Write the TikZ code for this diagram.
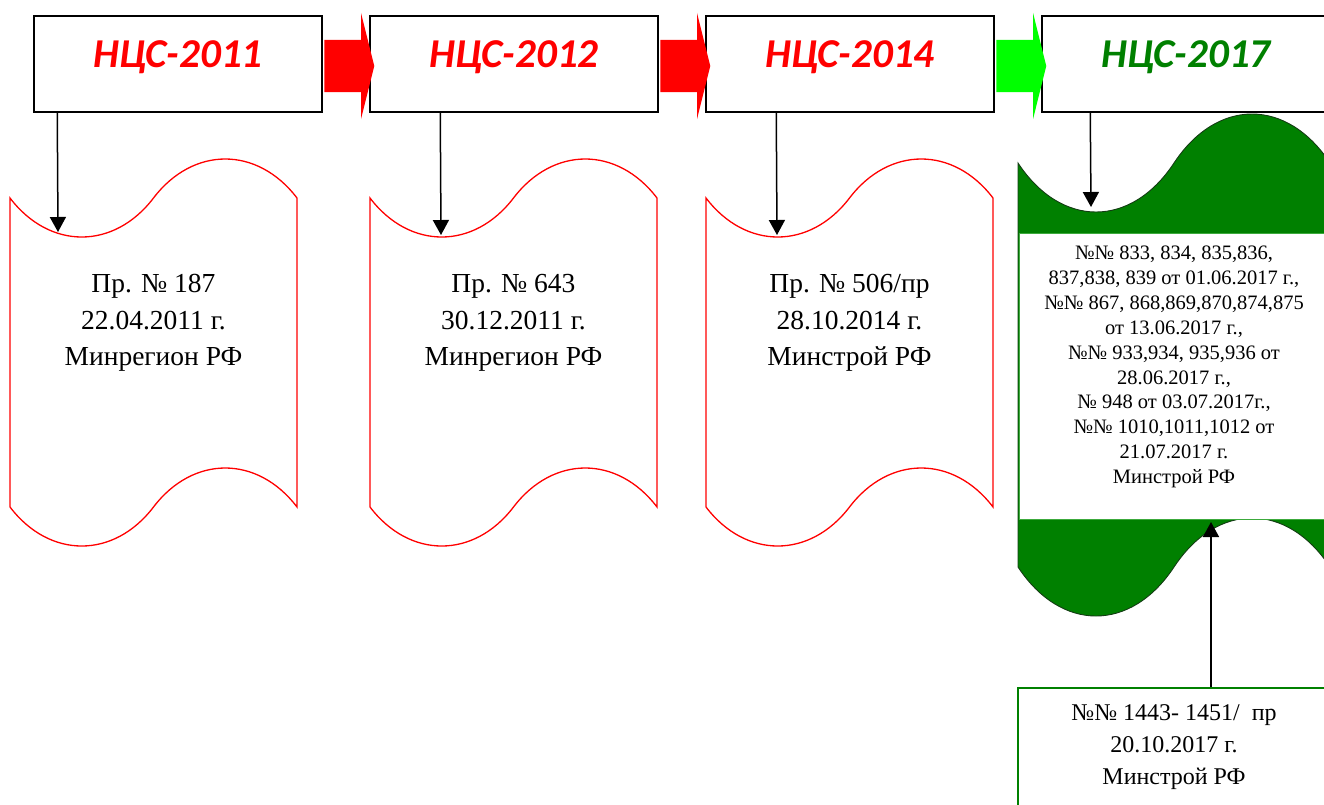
\documentclass[tikz,border=0pt]{standalone}
\usepackage{fontspec}
\setmainfont{Liberation Serif}
\newfontfamily\headfont{Carlito}
\usetikzlibrary{arrows.meta,positioning,shapes.symbols,shapes.arrows,calc}
\definecolor{ncsred}{RGB}{255,0,0}
\definecolor{ncsgreen}{RGB}{0,128,0}
\definecolor{flowgreen}{RGB}{0,255,0}
\definecolor{tapeedge}{RGB}{20,60,20}
\definecolor{listedge}{RGB}{60,170,60}

\begin{document}
\begin{tikzpicture}[
  x=1pt, y=-1pt,
  titlebox/.style={draw, line width=1.5pt, minimum width=288pt, minimum height=96pt, inner sep=0pt},
  yeartext/.style={font=\headfont\bfseries\itshape\fontsize{41}{48}\selectfont, inner sep=0pt},
  doctape/.style={tape, draw=ncsred, line width=1.3pt, minimum width=287pt,
                  minimum height=387pt, tape bend height=78pt, inner sep=0pt},
  doctext/.style={align=center, font=\fontsize{27.5}{36.5}\selectfont, inner sep=0pt},
  listtext/.style={align=center, font=\fontsize{20.5}{24.9}\selectfont, inner sep=0pt},
  flow/.style={single arrow, minimum height=50pt, inner sep=0pt, inner ysep=26pt,
               single arrow head extend=27pt, single arrow tip angle=152},
  link/.style={-{Triangle[length=15pt,width=16pt]}, line width=1.5pt}
]
\useasboundingbox (0,0) rectangle (1324,804);
\clip (0,0) rectangle (1324,804);

\node[titlebox] (box1) at (178,64) {};
\node[titlebox] (box2) at (514,64) {};
\node[titlebox] (box3) at (850,64) {};
\node[titlebox] (box4) at (1186,64) {};

\node[yeartext, text=ncsred] (year1) at (178,57) {НЦС-2011};
\node[yeartext, text=ncsred] (year2) at (514,57) {НЦС-2012};
\node[yeartext, text=ncsred] (year3) at (850,57) {НЦС-2014};
\node[yeartext, text=ncsgreen] (year4) at (1186,57) {НЦС-2017};

\node[flow, fill=ncsred] (flow12) at ($(box1.east)!.5!(box2.west)+(0,2)$) {};
\node[flow, fill=ncsred] (flow23) at ($(box2.east)!.5!(box3.west)+(0,2)$) {};
\node[flow, fill=flowgreen] (flow34) at ($(box3.east)!.5!(box4.west)+(0,2)$) {};

\node[doctape] (tape1) at (153.5,352.5) {};
\node[doctape] (tape2) at (513.5,352.5) {};
\node[doctape] (tape3) at (849.5,352.5) {};
\node[doctape, draw=tapeedge, fill=ncsgreen, line width=0.9pt, minimum width=312pt,
      minimum height=502pt, tape bend height=98pt] (tape4) at (1174,365) {};
\node[draw=listedge, fill=white, line width=0.8pt, minimum width=311pt,
      minimum height=286pt, inner sep=0pt] (list4) at (1174.5,376) {};

\node[doctext] (doc1) at (153.5,323) {Пр. № 187\\22.04.2011 г.\\Минрегион РФ};
\node[doctext] (doc2) at (513.5,323) {Пр. № 643\\30.12.2011 г.\\Минрегион РФ};
\node[doctext] (doc3) at (849.5,323) {Пр. № 506/пр\\28.10.2014 г.\\Минстрой РФ};
\node[listtext] (doc4) at (1174,367) {№№ 833, 834, 835,836,\\837,838, 839 от 01.06.2017 г.,\\
  №№ 867, 868,869,870,874,875\\от 13.06.2017 г.,\\ №№ 933,934, 935,936 от\\28.06.2017 г.,\\
  № 948 от 03.07.2017г.,\\№№ 1010,1011,1012 от\\21.07.2017 г.\\Минстрой РФ};

\node[draw=ncsgreen, line width=1.2pt, minimum width=312pt, minimum height=142pt,
      inner sep=0pt] (order5) at (1174,759) {};
\node[doctext, font=\fontsize{24}{32}\selectfont] (doc5) at (1174,747)
  {№№ 1443- 1451/\ \ пр\\20.10.2017 г.\\Минстрой РФ};

\coordinate (hit1) at (58,232);
\coordinate (hit2) at (441,235);
\coordinate (hit3) at (777,235);
\coordinate (hit4) at (1091,207);
\coordinate (hit5) at (1211,522);

\draw[link] ([xshift=24pt]box1.south west) -- (hit1);
\draw[link] ([xshift=71pt]box2.south west) -- (hit2);
\draw[link] ([xshift=71pt]box3.south west) -- (hit3);
\draw[link] ([xshift=49pt]box4.south west) -- (hit4);
\draw[link] ([xshift=37pt]order5.north) -- (hit5);
\end{tikzpicture}
\end{document}
